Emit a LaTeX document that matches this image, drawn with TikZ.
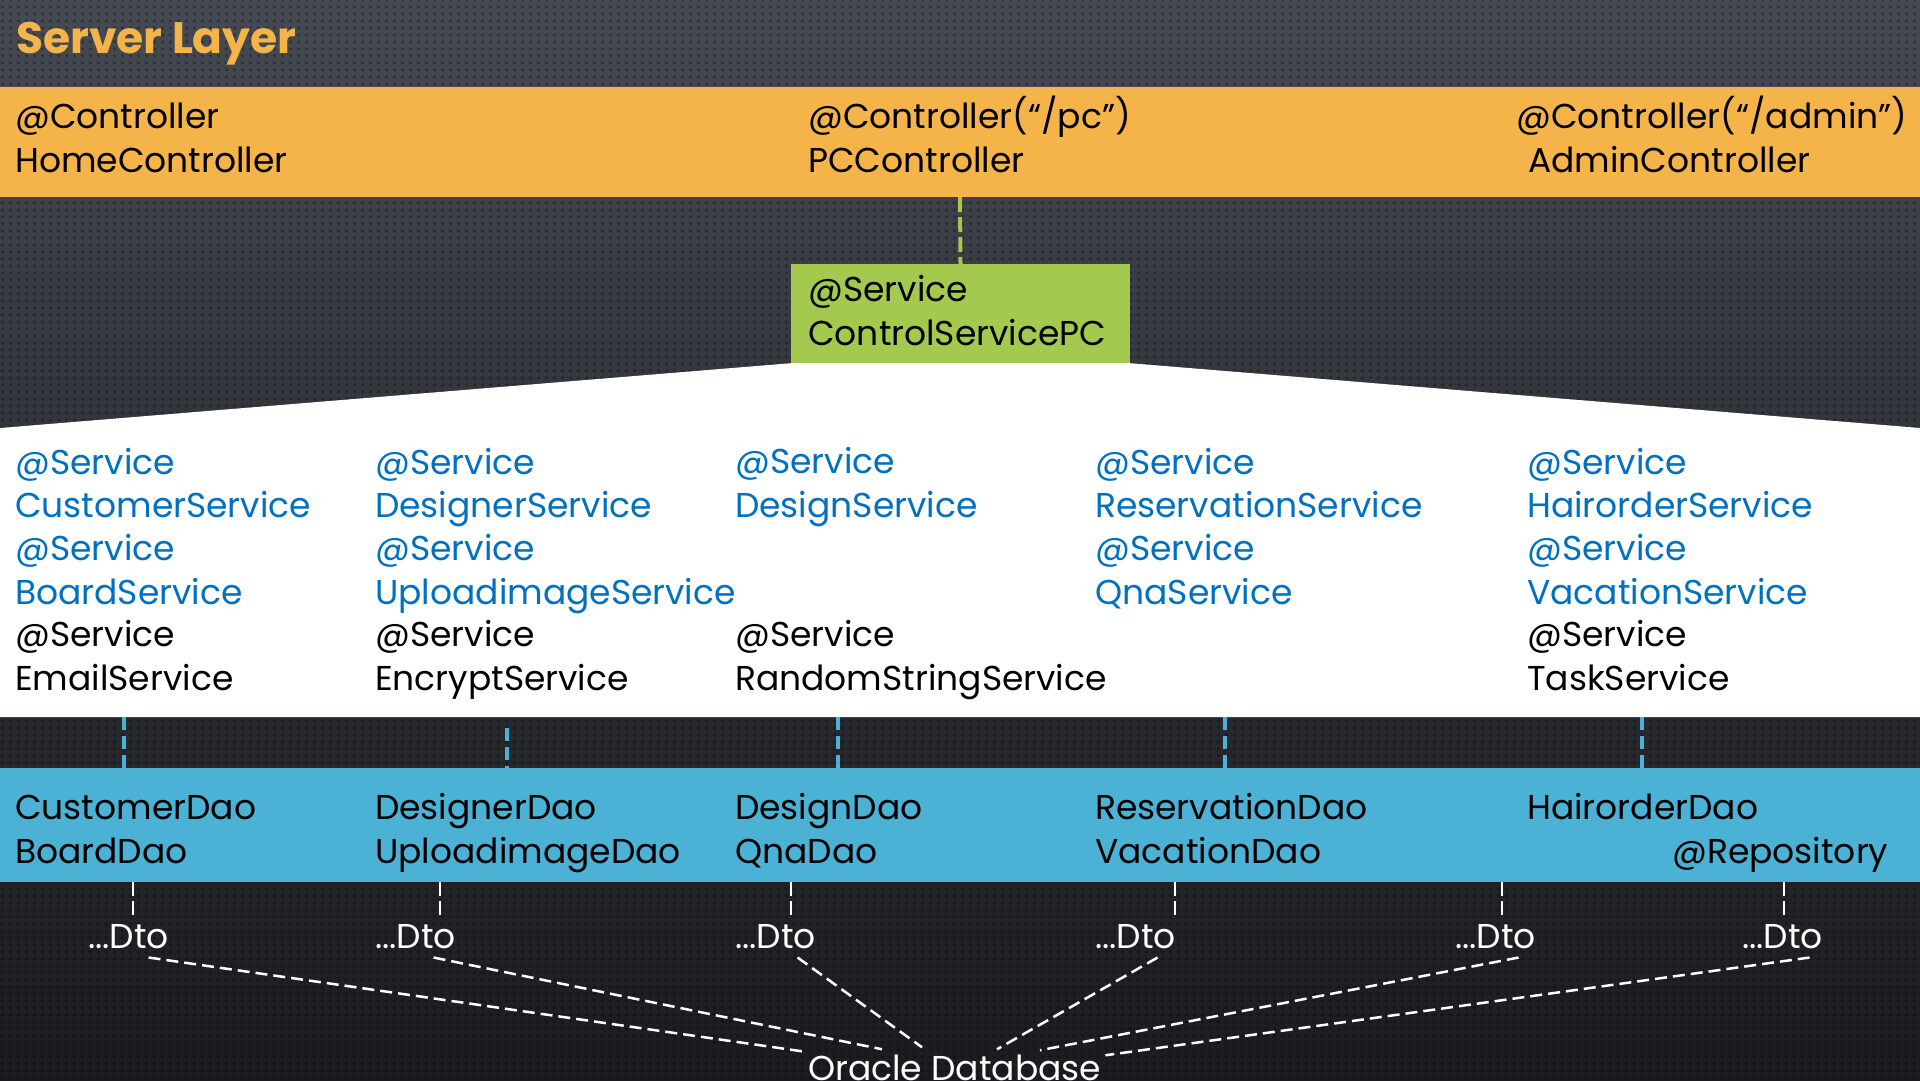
\documentclass[tikz,border=0pt]{standalone}
\usepackage{fontspec}
\setmainfont{Poppins}
\usetikzlibrary{
  patterns.meta,
  positioning
}
\definecolor{bgtop}{HTML}{464A52}
\definecolor{bgmid}{HTML}{2D3035}
\definecolor{bgbottom}{HTML}{1B1C1F}
\definecolor{ctrlorange}{HTML}{F4B44A}
\definecolor{svcgreen}{HTML}{A3C94F}
\definecolor{daoblue}{HTML}{4BB2D5}
\definecolor{svcblue}{HTML}{0070C0}
\tikzdeclarepattern{
  name=perforation,
  type=uncolored,
  bounding box={(0pt,0pt) and (8pt,7pt)},
  tile size={(8pt,7pt)},
  code={\fill (4pt,3.5pt) circle (2pt);}
}
\tikzset{
  band/.style={
    rectangle,
    minimum width=1920pt,
    inner sep=0pt,
    outer sep=0pt
  },
  txt/.style={
    font=\fontsize{34.5}{43.3}\selectfont,
    align=left,
    anchor=base west,
    inner sep=0pt
  },
  bluetxt/.style={txt, text=svcblue},
  whitetxt/.style={txt, text=white},
  greenlink/.style={draw=svcgreen, line width=4pt, dash pattern=on 15pt off 5pt},
  bluelink/.style={draw=daoblue, line width=3.5pt, dash pattern=on 13pt off 6pt},
  dtolink/.style={draw=white, line width=2pt, dash pattern=on 14pt off 5pt},
  dblink/.style={draw=white, line width=2.5pt, dash pattern=on 12pt off 6pt}
}

\begin{document}
\begin{tikzpicture}[x=1pt, y=-1pt]
  \useasboundingbox (0,0) rectangle (1920,1080);
  \clip (0,0) rectangle (1920,1080);

  % background
  \shade[top color=bgtop, bottom color=bgbottom, middle color=bgmid]
    (0,0) rectangle (1920,1080);
  \fill[pattern=perforation, pattern color=black, fill opacity=0.3]
    (0,0) rectangle (1920,1080);

  \node[font=\fontsize{44}{50}\selectfont\bfseries, text=ctrlorange,
    anchor=base west, inner sep=0pt] (title) at (16,53) {Server Layer};

  % controllers (base = last line)
  \node[band, fill=ctrlorange, minimum height=110pt] (ctrl) at (960,142) {};
  \node[txt] (home) at (15,172) {@Controller\\HomeController};
  \node[txt] (pcctrl) at (808,172) {@Controller(“/pc”)\\PCController};
  \node[txt] (admin) at (1516,172)
    {@Controller(“/admin”)\\\hspace*{12pt}AdminController};

  % control service
  \node[fill=svcgreen, minimum width=339pt, minimum height=99pt,
    inner sep=0pt] (pcsvc) at (960.5,313.5) {};
  \node[txt] (pcsvctext) at (808,345) {@Service\\ControlServicePC};
  \draw[greenlink] (ctrl.south) -- (pcsvc.north);

  % services
  \fill[white] (0,428) -- (pcsvc.south west) -- (pcsvc.south east)
    -- (1920,428) -- (1920,717) -- (0,717) -- cycle;

  \node[bluetxt] (customer) at (15,604)
    {@Service\\CustomerService\\@Service\\BoardService};
  \node[txt] (email) at (15,690) {@Service\\EmailService};
  \node[bluetxt] (designer) at (375,604)
    {@Service\\DesignerService\\@Service\\UploadimageService};
  \node[txt] (encrypt) at (375,690) {@Service\\EncryptService};
  \node[bluetxt] (design) at (735,517) {@Service\\DesignService};
  \node[txt] (random) at (735,690) {@Service\\RandomStringService};
  \node[bluetxt] (reservation) at (1095,604)
    {@Service\\ReservationService\\@Service\\QnaService};
  \node[bluetxt] (hairorder) at (1527,604)
    {@Service\\HairorderService\\@Service\\VacationService};
  \node[txt] (task) at (1527,690) {@Service\\TaskService};

  % daos
  \node[band, fill=daoblue, minimum height=114pt] (dao) at (960,825) {};
  \node[txt] (customerdao) at (15,863) {CustomerDao\\BoardDao};
  \node[txt] (designerdao) at (375,863) {DesignerDao\\UploadimageDao};
  \node[txt] (designdao) at (735,863) {DesignDao\\QnaDao};
  \node[txt] (reservationdao) at (1095,863) {ReservationDao\\VacationDao};
  \node[txt] (hairorderdao) at (1527,819) {HairorderDao};
  \node[txt] (repository) at (1672,863) {@Repository};

  \coordinate (s1) at (124,717);
  \coordinate (s2) at (507,728);
  \coordinate (s3) at (838,717);
  \coordinate (s4) at (1225,717);
  \coordinate (s5) at (1642,717);
  \draw[bluelink] (s1) -- (s1 |- dao.north);
  \draw[bluelink] (s2) -- (s2 |- dao.north);
  \draw[bluelink] (s3) -- (s3 |- dao.north);
  \draw[bluelink] (s4) -- (s4 |- dao.north);
  \draw[bluelink] (s5) -- (s5 |- dao.north);

  % dtos
  \node[whitetxt] (dto1) at (88,948) {...Dto};
  \node[whitetxt] (dto2) at (375,948) {...Dto};
  \node[whitetxt] (dto3) at (735,948) {...Dto};
  \node[whitetxt] (dto4) at (1095,948) {...Dto};
  \node[whitetxt] (dto5) at (1455,948) {...Dto};
  \node[whitetxt] (dto6) at (1742,948) {...Dto};

  \coordinate (d1) at (133,882);
  \coordinate (d2) at (440,882);
  \coordinate (d3) at (791,882);
  \coordinate (d4) at (1175,882);
  \coordinate (d5) at (1502,882);
  \coordinate (d6) at (1784,882);
  \draw[dtolink, shorten >=4pt] (d1) -- (d1 |- dto1.north);
  \draw[dtolink, shorten >=4pt] (d2) -- (d2 |- dto2.north);
  \draw[dtolink, shorten >=4pt] (d3) -- (d3 |- dto3.north);
  \draw[dtolink, shorten >=4pt] (d4) -- (d4 |- dto4.north);
  \draw[dtolink, shorten >=4pt] (d5) -- (d5 |- dto5.north);
  \draw[dtolink, shorten >=4pt] (d6) -- (d6 |- dto6.north);

  % database
  \node[whitetxt] (db) at (808,1080) {Oracle Database};

  \draw[dblink] ([xshift=20pt, yshift=-9pt]dto1.south)
    -- ([xshift=-6pt, yshift=3pt]db.north west);
  \draw[dblink] ([xshift=18pt, yshift=-9pt]dto2.south)
    -- ([xshift=74pt, yshift=5pt]db.north west);
  \draw[dblink] ([xshift=22pt, yshift=-9pt]dto3.south)
    -- ([xshift=114pt, yshift=7pt]db.north west);
  \draw[dblink] ([xshift=22pt, yshift=-9pt]dto4.south)
    -- ([xshift=189pt, yshift=5pt]db.north west);
  \draw[dblink] ([xshift=23pt, yshift=-9pt]dto5.south)
    -- ([xshift=232pt, yshift=4pt]db.north west);
  \draw[dblink] ([xshift=27pt, yshift=-9pt]dto6.south)
    -- ([xshift=4pt, yshift=-1pt]db.north east);
\end{tikzpicture}
\end{document}
